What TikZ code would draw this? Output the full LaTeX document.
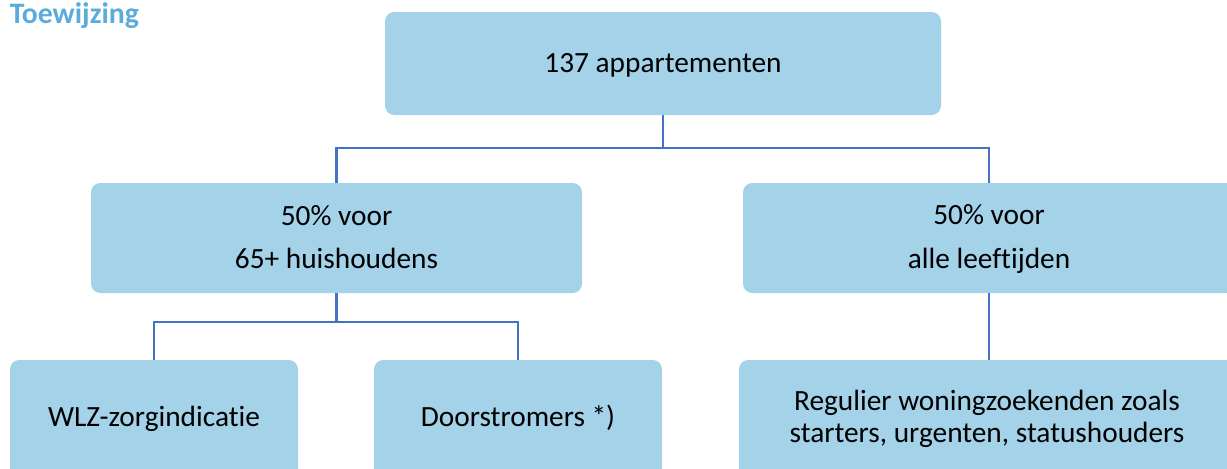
\documentclass[tikz,border=0pt]{standalone}
\usepackage{fontspec}
\setmainfont[Ligatures=NoCommon]{Carlito}
\definecolor{boxfill}{RGB}{163,210,233}
\definecolor{linkblue}{RGB}{68,114,196}
\definecolor{titleblue}{RGB}{91,172,219}
\begin{document}
\begin{tikzpicture}[x=0.75pt,y=-0.75pt,
  box/.style={fill=boxfill,draw=none,rounded corners=7pt,inner sep=0pt},
  lbl/.style={anchor=base,inner sep=0pt,font=\fontsize{22}{26}\selectfont},
  link/.style={draw=linkblue,line width=2.1pt}]
\useasboundingbox (0,0) rectangle (1227,468);
\clip (0,0) rectangle (1227,468);
\node[anchor=base west,font=\fontsize{22.3}{26}\selectfont\bfseries,text=titleblue,inner sep=0pt] (title) at (9.5,23) {Toewijzing};
% boxes
\node[box,minimum width=556*0.75pt,minimum height=103*0.75pt] (top) at (663,63.5) {};
\node[box,minimum width=491*0.75pt,minimum height=110*0.75pt] (m1) at (336.5,238) {};
\node[box,minimum width=492*0.75pt,minimum height=110*0.75pt] (m2) at (989,238) {};
\node[box,minimum width=288*0.75pt,minimum height=120*0.75pt] (b1) at (154,420) {};
\node[box,minimum width=288*0.75pt,minimum height=120*0.75pt] (b2) at (518,420) {};
\node[box,minimum width=500*0.75pt,minimum height=120*0.75pt] (b3) at (989,420) {};
% texts
\node[lbl] (ttop) at (663,72) {137 appartementen};
\node[lbl] (tm1a) at (336.5,225) {50\% voor};
\node[lbl] (tm1b) at (336.5,268) {65+ huishoudens};
\node[lbl] (tm2a) at (989,224) {50\% voor};
\node[lbl] (tm2b) at (989,268) {alle leeftijden};
\node[lbl] (tb1) at (154,426) {WLZ-zorgindicatie};
\node[lbl] (tb2) at (518,426) {Doorstromers *)};
\node[lbl] (tb3a) at (987,410) {Regulier woningzoekenden zoals};
\node[lbl] (tb3b) at (987,442) {starters, urgenten, statushouders};
% connectors
\coordinate (j1) at (663,148);
\coordinate (j2) at (336.5,322);
\draw[link] (top.south) -- (j1);
\draw[link] (j1) -| (m1.north);
\draw[link] (j1) -| (m2.north);
\draw[link] (m1.south) -- (j2);
\draw[link] (j2) -| (b1.north);
\draw[link] (j2) -| (b2.north);
\draw[link] (m2.south) -- (b3.north);
\end{tikzpicture}
\end{document}
